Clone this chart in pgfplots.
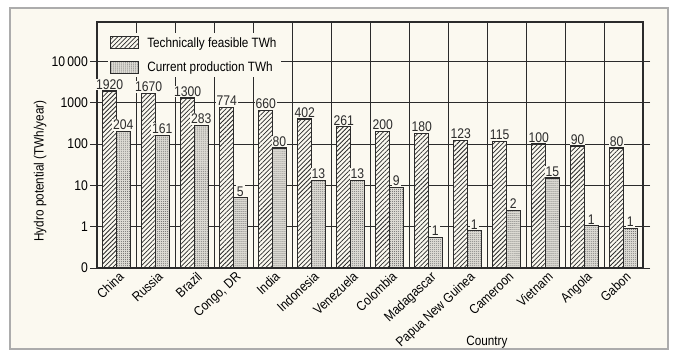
\documentclass[border=0pt]{standalone}
\usepackage{fontspec}
\setmainfont{Liberation Sans}[FakeStretch=0.87]
\usepackage{pgfplots}
\pgfplotsset{compat=1.18}
\usepackage{pgfplotstable}
\usetikzlibrary{patterns.meta}
\definecolor{paper}{HTML}{FBF9F0}
\definecolor{ink}{HTML}{2B2B2B}
\definecolor{dotfill}{HTML}{DCDAD3}

\pgfplotstableread{
x feas cur curlab
0 1920 204 204
1 1670 161 161
2 1300 283 283
3 774 5 5
4 660 80 80
5 402 13 13
6 261 13 13
7 200 9 9
8 180 0.55 1
9 123 0.8 1
10 115 2.5 2
11 100 15 15
12 90 1.05 1
13 80 0.9 1
}\datatable

\begin{document}
\begin{tikzpicture}
\useasboundingbox (0,0) rectangle (682bp,353bp);
\draw[gray!65, line width=1.5pt, fill=paper] (10bp,4bp) rectangle (668bp,345bp);
\begin{axis}[
  at={(97bp,85bp)}, anchor=south west,
  scale only axis, width=546bp, height=246bp,
  ymode=log, log origin y=infty,
  ymin=0.1, ymax=90000,
  xmin=-0.5, xmax=13.5,
  ybar=0pt, bar width=0.35,
  font=\fontsize{13.5bp}{15bp}\selectfont,
  xtick={0,...,13},
  xticklabels={China,Russia,Brazil,{Congo, DR},India,Indonesia,Venezuela,Colombia,Madagascar,Papua New Guinea,Cameroon,Vietnam,Angola,Gabon},
  xticklabel style={rotate=43, anchor=north east, inner sep=1pt, xshift=5bp, yshift=3bp, font=\fontsize{13.5bp}{15bp}\selectfont},
  yticklabel style={font=\fontsize{14bp}{15bp}\selectfont, inner sep=2pt},
  x tick style={draw=none},
  minor xtick={-0.5,0.5,...,13.5},
  xminorgrids, minor grid style={ink, line width=0.7pt},
  ytick={0.1,1,10,100,1000,10000},
  yticklabels={0,1,10,100,1000,10\,000},
  ymajorgrids, major grid style={ink, line width=0.7pt},
  y tick style={ink, line width=0.7pt},
  tick align=outside, major tick length=7bp,
  minor tick length=0pt,
  yminorticks=false,
  axis line style={ink, line width=1.3pt},
  axis background/.style={fill=paper},
  xlabel={Country},
  xlabel style={at={(axis description cs:0.714,-0.30)}, anchor=center, font=\fontsize{13.5bp}{15bp}\selectfont},
  ylabel={Hydro potential (TWh/year)},
  ylabel style={at={(axis description cs:-0.104,0.394)}, anchor=center, font=\fontsize{13.5bp}{15bp}\selectfont},
  legend style={at={(rel axis cs:0.02,0.955)}, anchor=north west, draw=none, fill=paper,
    row sep=9bp, inner sep=2bp, font=\fontsize{13.5bp}{15bp}\selectfont},
  legend cell align=left,
  legend image code/.code={\draw[#1] (0bp,-6bp) rectangle (28bp,6bp); \path (34bp,0bp);},
  nodes near coords,
  point meta=explicit symbolic,
  every node near coord/.append style={font=\fontsize{14bp}{15bp}\selectfont, fill=paper, inner sep=1pt, text=ink},
  clip=false,
]
\addplot[draw=ink, line width=1.2pt, fill=paper, postaction={pattern={Lines[angle=45,distance=3.2pt,line width=0.75pt]}, pattern color=ink}]
  table[x=x, y=feas, meta=feas] {\datatable};
\addplot[draw=ink, line width=1.2pt, fill=dotfill, postaction={pattern={Dots[distance=2pt,radius=0.45pt]}, pattern color=gray!80!black}]
  table[x=x, y=cur, meta=curlab] {\datatable};
\legend{Technically feasible TWh, Current production TWh}
\end{axis}
\end{tikzpicture}
\end{document}
